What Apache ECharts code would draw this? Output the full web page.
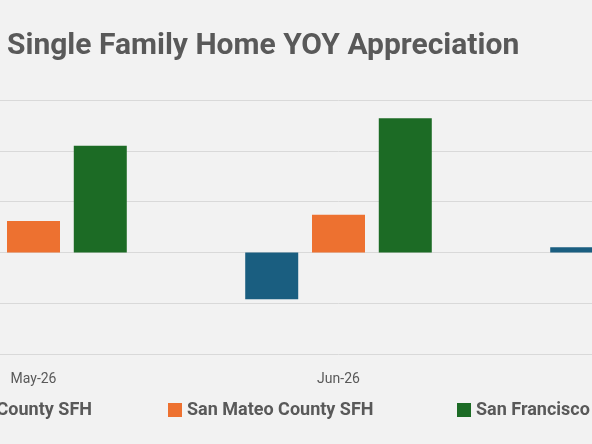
<!DOCTYPE html>
<html><head><meta charset="utf-8">
<script src="https://cdn.jsdelivr.net/npm/echarts@6/dist/echarts.min.js"></script>
<style>html,body{margin:0;padding:0;background:#f2f2f2;overflow:hidden;width:592px;height:444px}
#c{position:absolute;left:-119px;top:0;width:915px;height:444px}</style></head>
<body><div id="c"></div>
<script>
const categories = ["May-26","Jun-26","Jul-26"];
const santaClara = [0, -4.6, 0.5];
const sanMateo = [3.1, 3.7, 0];
const sanFrancisco = [10.5, 13.2, 0];
const names = ["Santa Clara County SFH","San Mateo County SFH","San Francisco County SFH"];
const colors = ["#1a5e80","#ed7130","#1c6b25"];
const chart = echarts.init(document.getElementById('c'));
const lt = {color:'#595959',fontSize:18,fontWeight:'bold',fontFamily:'Roboto'};
chart.setOption({
  backgroundColor:'#f2f2f2',
  animation:false,
  title:{text:'Single Family Home YOY Appreciation',left:121,top:26,
    textStyle:{color:'#595959',fontSize:30,fontWeight:'bold',fontFamily:'Roboto'}},
  legend:[
    {data:[names[0]],left:-6,top:396,itemWidth:14,itemHeight:14,textStyle:lt,icon:'rect'},
    {data:[names[1]],left:282,top:396,itemWidth:14,itemHeight:14,textStyle:lt,icon:'rect'},
    {data:[names[2]],left:571,top:396,itemWidth:14,itemHeight:14,textStyle:lt,icon:'rect'}
  ],
  grid:{left:0,right:0,top:100,bottom:90},
  xAxis:{type:'category',data:categories,
    axisLine:{lineStyle:{color:'#d9d9d9'}},
    axisTick:{length:5,lineStyle:{color:'#d9d9d9'}},
    axisLabel:{color:'#595959',fontSize:14,margin:18,fontFamily:'Roboto'}},
  yAxis:{type:'value',min:-10,max:15,interval:5,axisLabel:{show:false},
    splitLine:{lineStyle:{color:'#d9d9d9'}}},
  series:[santaClara,sanMateo,sanFrancisco].map((d,i)=>({
    name:names[i],type:'bar',data:d,barWidth:53,barGap:'26%',barCategoryGap:'38.7%',
    itemStyle:{color:colors[i]}}))
});
</script></body></html>
